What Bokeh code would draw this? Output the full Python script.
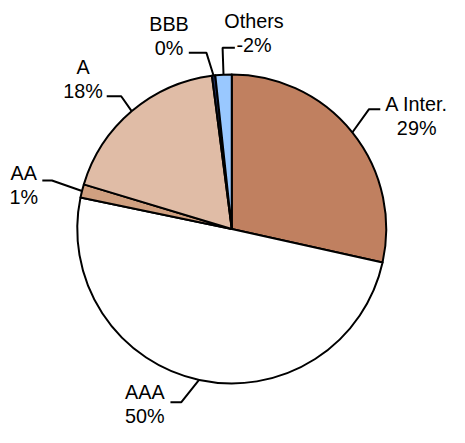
import math
from bokeh.plotting import figure
from bokeh.models import Range1d
from bokeh.embed import file_html
from bokeh.resources import INLINE
from bokeh.core.properties import value

# ---- data ----
categories = ["A Inter.", "AAA", "AA", "A", "BBB", "Others"]
shares = [28.5, 49.8, 1.4, 18.3, 0.35, 1.7]
pct_labels = ["29%", "50%", "1%", "18%", "0%", "-2%"]

# ---- styles / layout (in reference-image pixels, 465 x 443) ----
colors = ["#C08060", "#FFFFFF", "#D0A080", "#E0BCA6", "#1F2F5F", "#99C8FF"]
REF_W, REF_H = 465.0, 443.0
CX, CY = 239.5, 237.0          # pie centre
R = 160.0
elbows = [(381.7, 112.7), (187.3, 416.7), (53.3, 186.7), (125.0, 99.3), (213.3, 54.3), (230.0, 49.0)]
ends = [(393.3, 112.7), (176.0, 416.7), (43.3, 186.7), (110.0, 99.3), (195.0, 54.3), (242.7, 49.0)]
label_pos = [(431.0, 107.0), (149.5, 406.5), (24.0, 179.0), (85.5, 68.5), (174.5, 24.2), (262.5, 21.0)]
LINE_GAP = 25.0
FONT = value("Liberation Sans")

W, H = 449, 427
SCALE = W / REF_W
FSIZE = "%.1fpx" % (20.5 * SCALE)


def px(x):
    return x - CX


def py(y):
    return CY - y


p = figure(width=W, height=H, output_backend="svg", toolbar_location=None,
           x_axis_type=None, y_axis_type=None, min_border=0,
           x_range=Range1d(-CX, REF_W - CX), y_range=Range1d(CY - REF_H, CY))
p.outline_line_color = None
p.grid.visible = False
p.background_fill_color = "white"
p.border_fill_color = "white"

total = sum(shares)
cum = 0.0
starts, stops, mids = [], [], []
for s in shares:
    a0 = 2 * math.pi * cum / total
    cum += s
    a1 = 2 * math.pi * cum / total
    starts.append(math.pi / 2 - a0)
    stops.append(math.pi / 2 - a1)
    mids.append((a0 + a1) / 2)

p.wedge(x=[0] * len(shares), y=[0] * len(shares), radius=R,
        start_angle=starts, end_angle=stops, direction="clock",
        fill_color=colors, line_color="black", line_width=2, line_join="round")

for i, cat in enumerate(categories):
    sx, sy = R * math.sin(mids[i]), R * math.cos(mids[i])
    ex, ey = elbows[i]
    fx, fy = ends[i]
    p.line([sx, px(ex), px(fx)], [sy, py(ey), py(fy)], line_color="black", line_width=2)
    lx, ly = label_pos[i]
    p.text(x=[px(lx), px(lx)], y=[py(ly), py(ly + LINE_GAP)], text=[cat, pct_labels[i]],
           text_align="center", text_baseline="middle", text_font=FONT,
           text_font_size=FSIZE, text_color="black")

open("out.html", "w").write(file_html(p, INLINE))
